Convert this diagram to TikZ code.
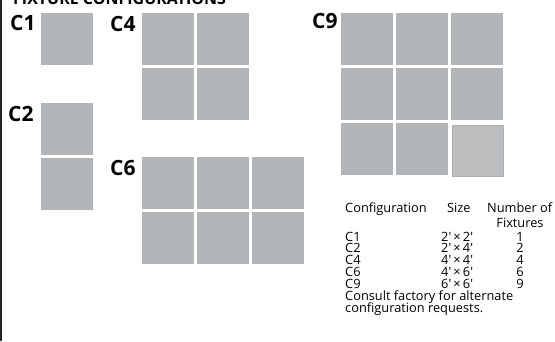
\documentclass[tikz,border=0pt]{standalone}
\usepackage{fontspec}
\setmainfont{Open Sans}
\usetikzlibrary{backgrounds}

\definecolor{panelgray}{HTML}{B1B5B8}
\definecolor{panellight}{HTML}{BDBEC0}
\definecolor{paneledge}{HTML}{ADB0B3}

\tikzset{
  panel/.style={rectangle,fill=panelgray,minimum size=52pt,inner sep=0pt,anchor=north west},
  spare/.style={panel,fill=panellight,draw=paneledge,line width=1pt,minimum size=51pt},
  cfglabel/.style={font=\bfseries\fontsize{21}{22}\selectfont,anchor=base west,inner sep=0pt},
  tabtext/.style={font=\fontsize{12.8}{13}\selectfont,anchor=base west,inner sep=0pt},
  tabnum/.style={font=\fontsize{12.8}{13}\selectfont,anchor=base,inner sep=0pt}
}

\begin{document}
\begin{tikzpicture}[x=1pt,y=-1pt]
\useasboundingbox (0,0) rectangle (555,341);
\clip (0,0) rectangle (555,341);
\draw [line width=1.5pt,black!85] (0.75,0) -- (0.75,341);

% title, cut at the top
\node at (13,4) [font=\bfseries\fontsize{16}{16}\selectfont,anchor=base west,inner sep=0pt] (title) {FIXTURE CONFIGURATIONS};

% C1
\node at (10,30) [cfglabel] (lc1) {C1};
\node at (41,13) [panel] (c1) {};

% C2
\node at (8,121) [cfglabel] (lc2) {C2};
\node at (41,103) [panel] (c2a) {};
\node at (41,158) [panel] (c2b) {};

% C4
\node at (110,31.5) [cfglabel] (lc4) {C4};
\foreach \i in {0,1}
  \foreach \j in {0,1}
    \node at (142+55*\i,13+55*\j) [panel] (c4-\i-\j) {};

% C6
\node at (110,175) [cfglabel] (lc6) {C6};
\foreach \i in {0,1,2}
  \foreach \j in {0,1}
    \node at (142+55*\i,157+55*\j) [panel] (c6-\i-\j) {};

% C9
\node at (312,28) [cfglabel] (lc9) {C9};
\foreach \i/\j in {0/0,1/0,2/0,0/1,1/1,2/1,0/2,1/2}
  \node at (341+55*\i,13+55*\j) [panel] (c9-\i-\j) {};
\node at (451.5,124.5) [spare] (c9-2-2) {};

% table
\node at (345,212.5) [tabtext] (hconf) {Configuration};
\node at (447,212.5) [tabtext] (hsize) {Size};
\node at (487,212.5) [tabtext] (hnum) {Number of};
\node at (520,227) [tabnum] (hfix) {Fixtures};
\foreach \c/\a/\b/\n [count=\k] in {C1/2/2/1,C2/2/4/2,C4/4/4/4,C6/4/6/6,C9/6/6/9} {
  \node at (345,229.5+11.7*\k) [tabtext] (conf\k) {\c};
  \node at (441,229.5+11.7*\k) [tabtext] (size\k) {\a\textquotesingle\,×\,\b\textquotesingle};
  \node at (520,229.5+11.7*\k) [tabnum] (num\k) {\n};
}
\node at (345,300.5) [tabtext] (note1) {Consult factory for alternate};
\node at (345,312.5) [tabtext] (note2) {configuration requests.};
\end{tikzpicture}
\end{document}
